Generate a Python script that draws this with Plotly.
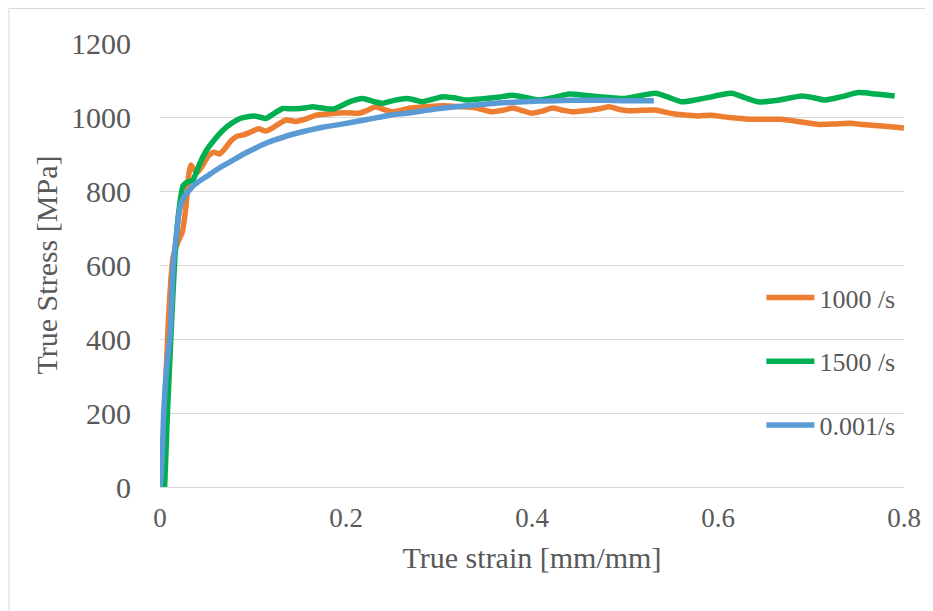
import plotly.graph_objects as go

# ---- data ----
strain_1000 = [0.002, 0.005, 0.009, 0.014, 0.019, 0.024, 0.028, 0.031, 0.033, 0.036, 0.040, 0.046,
               0.052, 0.058, 0.064, 0.070, 0.076, 0.082, 0.090, 0.098, 0.106, 0.114, 0.122, 0.130,
               0.136, 0.146, 0.157, 0.168, 0.180, 0.193, 0.204, 0.214, 0.223, 0.232, 0.241, 0.250,
               0.259, 0.268, 0.277, 0.286, 0.298, 0.311, 0.323, 0.336, 0.347, 0.357, 0.368, 0.379,
               0.390, 0.400, 0.411, 0.422, 0.432, 0.443, 0.453, 0.464, 0.474, 0.483, 0.493, 0.504,
               0.518, 0.533, 0.544, 0.554, 0.567, 0.579, 0.593, 0.604, 0.615, 0.625, 0.636, 0.652,
               0.668, 0.677, 0.686, 0.697, 0.708, 0.725, 0.743, 0.754, 0.765, 0.780, 0.797, 0.800]
stress_1000 = [0, 200, 450, 620, 660, 690, 760, 845, 870, 860, 850, 870,
               895, 905, 900, 915, 935, 947, 952, 960, 968, 962, 972, 985,
               992, 988, 995, 1005, 1008, 1011, 1011, 1010, 1018, 1028, 1020, 1014,
               1018, 1024, 1026, 1028, 1030, 1030, 1028, 1026, 1020, 1014, 1018, 1024,
               1017, 1010, 1016, 1024, 1019, 1014, 1016, 1019, 1023, 1028, 1021, 1017,
               1018, 1019, 1013, 1008, 1005, 1003, 1005, 1001, 998, 996, 994, 994,
               994, 991, 988, 984, 980, 981, 983, 980, 978, 975, 971, 970]

strain_1500 = [0.005, 0.008, 0.012, 0.016, 0.020, 0.025, 0.030, 0.035, 0.042, 0.050, 0.059, 0.068,
               0.077, 0.086, 0.093, 0.100, 0.107, 0.114, 0.123, 0.132, 0.141, 0.150, 0.157, 0.164,
               0.172, 0.180, 0.187, 0.193, 0.205, 0.218, 0.228, 0.239, 0.252, 0.265, 0.274, 0.282,
               0.293, 0.304, 0.316, 0.329, 0.340, 0.350, 0.365, 0.379, 0.393, 0.407, 0.424, 0.440,
               0.456, 0.472, 0.486, 0.500, 0.515, 0.533, 0.547, 0.561, 0.575, 0.590, 0.603, 0.615,
               0.629, 0.643, 0.666, 0.690, 0.703, 0.715, 0.733, 0.751, 0.770, 0.790]
stress_1500 = [0, 200, 420, 620, 740, 815, 825, 828, 870, 910, 940, 965,
               983, 996, 1000, 1003, 1000, 996, 1010, 1023, 1022, 1023, 1025, 1028,
               1025, 1022, 1022, 1028, 1042, 1050, 1043, 1037, 1045, 1050, 1046, 1041,
               1048, 1055, 1052, 1046, 1048, 1050, 1054, 1059, 1053, 1046, 1053, 1062,
               1059, 1055, 1052, 1050, 1057, 1064, 1053, 1041, 1046, 1053, 1060, 1064,
               1052, 1041, 1046, 1057, 1052, 1046, 1055, 1066, 1062, 1057]

strain_0001 = [0.000, 0.002, 0.004, 0.007, 0.011, 0.014, 0.018, 0.021, 0.025, 0.029, 0.035, 0.042,
               0.050, 0.060, 0.070, 0.079, 0.090, 0.102, 0.114, 0.126, 0.138, 0.150, 0.163, 0.176,
               0.189, 0.205, 0.220, 0.235, 0.250, 0.265, 0.282, 0.300, 0.318, 0.336, 0.354, 0.372,
               0.390, 0.407, 0.425, 0.443, 0.461, 0.479, 0.497, 0.515, 0.531]
stress_0001 = [0, 60, 200, 320, 416, 595, 690, 748, 780, 794, 812, 826,
               839, 856, 871, 884, 900, 915, 929, 940, 950, 958, 966, 973,
               978, 985, 992, 999, 1006, 1010, 1016, 1023, 1028, 1032, 1036, 1039,
               1041, 1043, 1044, 1045, 1045, 1045, 1044, 1044, 1044]

series_names = ["1000 /s", "1500 /s", "0.001/s"]
series_colors = ["#ED7D31", "#00B050", "#5B9BD5"]

x_ticks = [0, 0.2, 0.4, 0.6, 0.8]
x_ticktext = ["0", "0.2", "0.4", "0.6", "0.8"]
y_ticks = [0, 200, 400, 600, 800, 1000, 1200]

FONT = "Liberation Serif, Times New Roman, serif"
GRAY = "#595959"

# page body has an 8px default margin: the figure is sized/offset to compensate
W, H = 925, 603
ML, MR, MT, MB = 152, 27, 35, 124
PW = W - ML - MR
PH = H - MT - MB

fig = go.Figure()
for i, (xs, ys) in enumerate([(strain_1000, stress_1000), (strain_1500, stress_1500),
                              (strain_0001, stress_0001)]):
    fig.add_trace(go.Scatter(
        x=xs, y=ys, mode="lines", name=series_names[i],
        line=dict(color=series_colors[i], width=5.5, shape="spline", smoothing=0.6),
        legendgroup=f"g{i}", cliponaxis=False,
    ))

fig.update_layout(
    width=W, height=H,
    margin=dict(l=ML, r=MR, t=MT, b=MB),
    paper_bgcolor="white", plot_bgcolor="white",
    font=dict(family=FONT, color=GRAY),
    showlegend=True,
    legend=dict(
        x=(755 - ML) / PW, y=(H - MB - 266) / PH, xanchor="left", yanchor="top",
        font=dict(family=FONT, size=26, color=GRAY),
        bgcolor="rgba(0,0,0,0)", tracegroupgap=27, itemwidth=48,
        traceorder="grouped",
    ),
    xaxis=dict(
        range=[0, 0.8], tickvals=x_ticks, ticktext=x_ticktext,
        showgrid=False, zeroline=False, showline=True, linecolor="#D9D9D9", linewidth=1,
        ticks="", ticklabelstandoff=7,
        tickfont=dict(family=FONT, size=27, color=GRAY),
        title=dict(text="True strain [mm/mm]", font=dict(family=FONT, size=30, color=GRAY), standoff=14),
    ),
    yaxis=dict(
        range=[0, 1200], tickvals=y_ticks,
        showgrid=True, gridcolor="#D9D9D9", gridwidth=1, zeroline=False, showline=False,
        ticks="", ticklabelstandoff=28,
        tickfont=dict(family=FONT, size=30, color=GRAY),
        title=dict(text="True Stress [MPa]", font=dict(family=FONT, size=30, color=GRAY), standoff=4),
    ),
)

# outer frame (only the top and left edges are visible in the reference)
fx0 = (0.5 - ML) / PW
fx1 = (W - ML) / PW
fy_top = (H - MB - 0.5) / PH
fy_bot = (-MB) / PH
fig.add_shape(type="line", xref="paper", yref="paper", x0=fx0, x1=fx1, y0=fy_top, y1=fy_top,
              line=dict(color="#D9D9D9", width=1))
fig.add_shape(type="line", xref="paper", yref="paper", x0=fx0, x1=fx0, y0=fy_top, y1=fy_bot,
              line=dict(color="#D9D9D9", width=1))

fig.write_html("out.html")
